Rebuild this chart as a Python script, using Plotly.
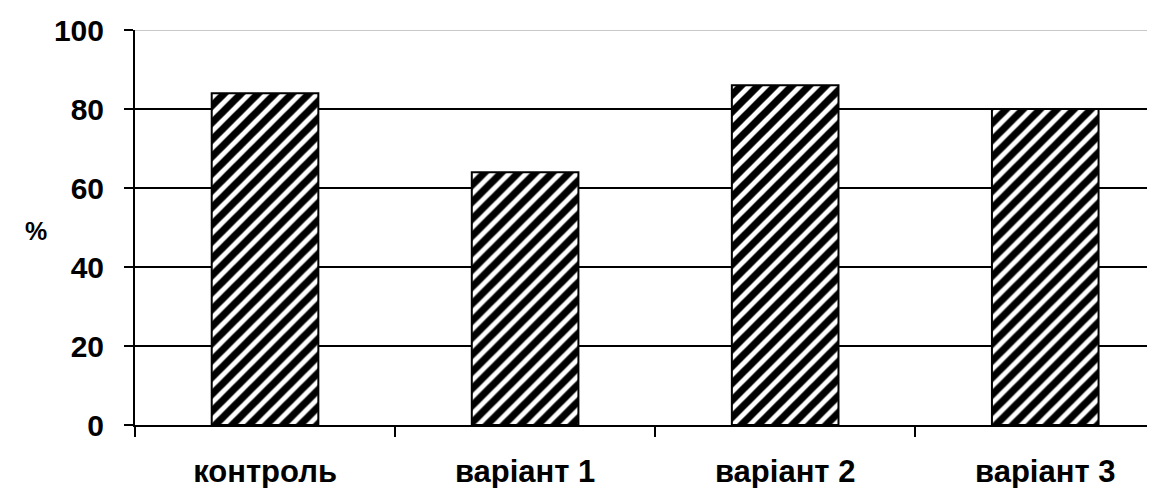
import plotly.graph_objects as go

categories = ["контроль", "варіант 1", "варіант 2", "варіант 3"]
values = [84, 64, 86, 80]
y_ticks = [0, 20, 40, 60, 80, 100]

FONT = "Arial, 'Liberation Sans', sans-serif"

# the page body has an 8px margin, so the figure is offset by 8px
fig = go.Figure()
fig.add_trace(go.Bar(
    x=categories, y=values, width=0.41,
    marker=dict(color="white", line=dict(color="black", width=2),
                pattern=dict(shape="/", fgcolor="black", bgcolor="white", fgopacity=1,
                             size=12, solidity=0.6)),
))

fig.add_shape(type="line", xref="paper", yref="y", x0=0, x1=1, y0=100, y1=100,
              line=dict(color="#c8c8c8", width=2), layer="below")

fig.add_annotation(text="<b>%</b>", xref="paper", yref="paper", x=-0.097, y=0.49,
                   xanchor="center", yanchor="middle",
                   showarrow=False, font=dict(family=FONT, size=25, color="black"))

fig.update_layout(
    width=1147, height=480,
    margin=dict(l=127, r=0, t=22, b=63),
    plot_bgcolor="white", paper_bgcolor="white",
    showlegend=False,
    font=dict(family=FONT, color="black"),
    xaxis=dict(range=[-0.5, 3.422], tickson="boundaries", ticks="outside", ticklen=10,
               tickwidth=2, tickcolor="black", showline=True, linecolor="black", linewidth=2,
               showgrid=False, ticklabelstandoff=18, automargin=False,
               tickfont=dict(family=FONT, size=31, color="black", weight="bold")),
    yaxis=dict(range=[0, 100], tickvals=y_ticks, ticks="outside", ticklen=9, tickwidth=2,
               tickcolor="black", showline=True, linecolor="black", linewidth=2,
               showgrid=True, gridcolor="black", gridwidth=2, zeroline=False,
               ticklabelstandoff=14, automargin=False,
               tickfont=dict(family=FONT, size=30, color="black", weight="bold")),
)

fig.write_html("out.html")
